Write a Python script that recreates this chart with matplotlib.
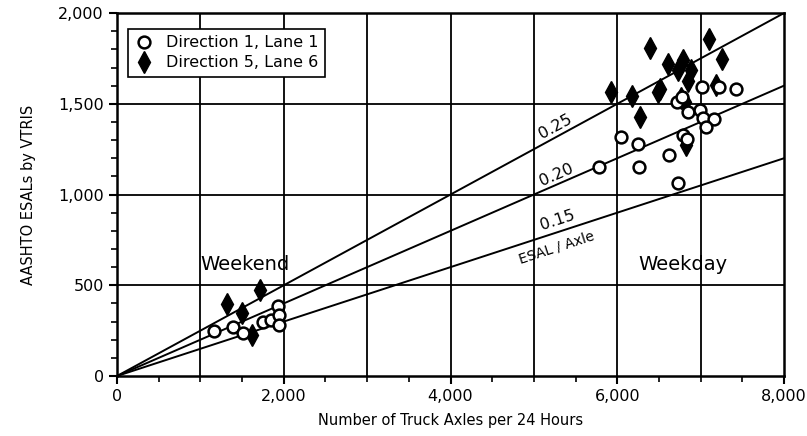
import numpy as np
import matplotlib
matplotlib.use("Agg")
import matplotlib.pyplot as plt
from matplotlib.ticker import MultipleLocator, FuncFormatter

# Direction 1, Lane 1 (circulos abiertos)
d1_x = [1163, 1391, 1511, 1751, 1847, 1931, 1943, 1943,
        5781, 6045, 6249, 6261, 6620, 6728, 6788, 6836, 6716, 6776,
        6848, 6992, 7028, 7160, 7064, 7016, 7220, 7424]
d1_y = [248, 270, 237, 298, 309, 386, 336, 281,
        1152, 1318, 1279, 1152, 1219, 1064, 1329, 1307, 1511, 1538,
        1456, 1467, 1423, 1417, 1373, 1594, 1594, 1583]

# Direction 5, Lane 6 (rombos)
d5_x = [1319, 1715, 1499, 1620,
        5925, 6176, 6272, 6488, 6512, 6393, 6608, 6788, 6728, 6884,
        6848, 7100, 7256, 7184, 6824, 6764, 6812]
d5_y = [397, 474, 347, 225,
        1566, 1544, 1428, 1566, 1583, 1809, 1720, 1743, 1687, 1687,
        1627, 1858, 1748, 1605, 1274, 1533, 1511]

# ESAL por eje
ratios = [0.25, 0.20, 0.15]
ratio_labels = ["0.25", "0.20", "0.15"]
label_x = [5253, 5273, 5289]

fig = plt.figure(figsize=(8.07, 4.36), dpi=100)
ax = fig.add_axes([0.145, 0.1376, 0.8265, 0.8324])

xx = np.array([0, 8000])
for r in ratios:
    ax.plot(xx, r * xx, color="black", lw=1.4, zorder=2)

ax.plot(d1_x, d1_y, "o", ms=8.5, mfc="white", mec="black", mew=1.8,
        label="Direction 1, Lane 1", zorder=4)
ax.plot(d5_x, d5_y, "d", ms=11, color="black",
        label="Direction 5, Lane 6", zorder=3)

# Etiquetas de las lineas
offs = [1373 - 0.25 * 5253, 1108 - 0.20 * 5273, 860 - 0.15 * 5289]
for r, lab, lx, o in zip(ratios, ratio_labels, label_x, offs):
    ang = np.degrees(np.arctan(r))
    ax.text(lx, r * lx + o, lab, rotation=ang, transform_rotates_text=True,
            rotation_mode="anchor", ha="center", va="center", fontsize=11.5)
ax.text(5273, 706, "ESAL / Axle", rotation=np.degrees(np.arctan(0.15)),
        transform_rotates_text=True, rotation_mode="anchor",
        ha="center", va="center", fontsize=10)

ax.text(1535, 612, "Weekend", ha="center", va="center", fontsize=14)
ax.text(6787, 612, "Weekday", ha="center", va="center", fontsize=14)

ax.set_xlim(0, 8000)
ax.set_ylim(0, 2000)
ax.xaxis.set_major_locator(MultipleLocator(2000))
ax.xaxis.set_minor_locator(MultipleLocator(500))
ax.yaxis.set_major_locator(MultipleLocator(500))
ax.yaxis.set_minor_locator(MultipleLocator(100))
fmt = FuncFormatter(lambda v, p: f"{int(v):,}")
ax.xaxis.set_major_formatter(fmt)
ax.yaxis.set_major_formatter(fmt)

for v in range(1000, 8000, 1000):
    ax.axvline(v, color="black", lw=1.3, zorder=1)
for v in range(500, 2000, 500):
    ax.axhline(v, color="black", lw=1.3, zorder=1)

for s in ax.spines.values():
    s.set_linewidth(1.8)
ax.tick_params(which="major", direction="out", length=6, width=1.5, labelsize=11.5)
ax.tick_params(which="minor", direction="out", length=4, width=1.2)

ax.set_xlabel("Number of Truck Axles per 24 Hours", fontsize=10.5, labelpad=6)
ax.set_ylabel("AASHTO ESALs by VTRIS", fontsize=10.5, labelpad=16)

leg = ax.legend(loc="upper left", fontsize=11.5, frameon=True, fancybox=False,
                edgecolor="black", framealpha=1, handletextpad=0.7,
                borderpad=0.4, labelspacing=0.3, handlelength=1.3,
                bbox_to_anchor=(0.004, 0.978))
leg.get_frame().set_linewidth(1.2)

fig.savefig("out.png", dpi=100)
